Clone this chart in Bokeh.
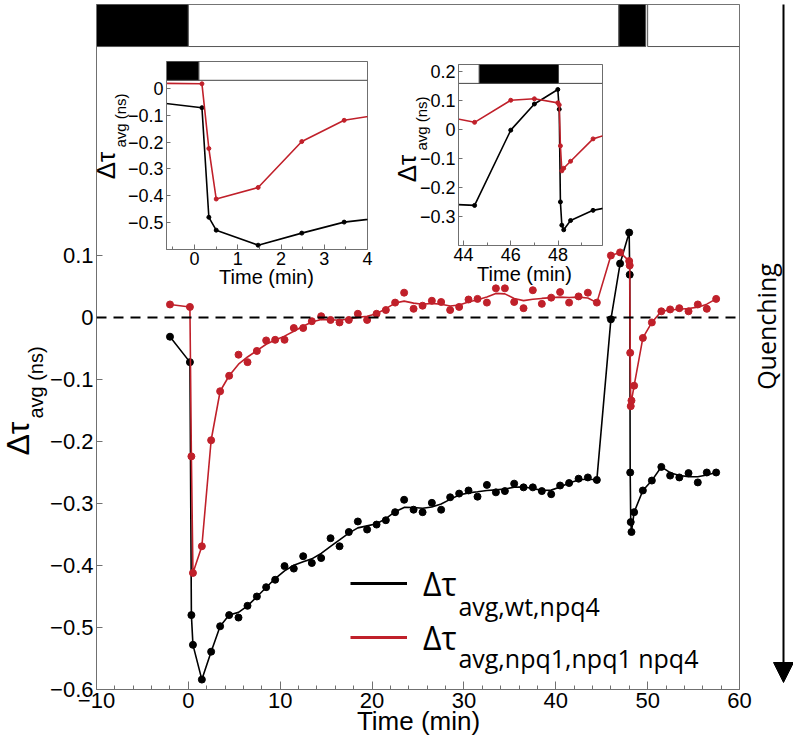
import math
import numpy as np
from bokeh.plotting import figure
from bokeh.models import (ColumnDataSource, Range1d, FixedTicker, CustomJSTickFormatter,
                          Span, Label, Legend, LegendItem, Arrow, NormalHead)
from bokeh.core.properties import value
from bokeh.layouts import column
from bokeh.embed import file_html
from bokeh.resources import INLINE

# ---------------- data ----------------
t_wt = [-2.0, 0.17, 0.33, 0.5, 1.47, 2.48, 3.46, 4.44, 5.46, 6.44, 7.46, 8.47, 9.45, 10.47,
        11.48, 12.5, 13.44, 14.46, 15.48, 16.46, 17.47, 18.45, 19.46, 20.49, 21.5, 22.51,
        23.49, 24.52, 25.5, 26.51, 27.52, 28.5, 29.48, 30.5, 31.48, 32.5, 33.48, 34.46,
        35.47, 36.49, 37.5, 38.48, 39.5, 40.47, 41.45, 42.48, 43.49, 44.47, 46.0, 47.0,
        47.99, 48.05, 48.1, 48.16, 48.24, 48.53, 49.48, 50.46, 51.49, 52.45, 53.45, 54.45,
        55.46, 56.44, 57.46]
dtau_wt = [-0.031, -0.072, -0.480, -0.528, -0.584, -0.539, -0.498, -0.480, -0.484, -0.465,
           -0.450, -0.435, -0.423, -0.401, -0.405, -0.385, -0.396, -0.388, -0.356, -0.369,
           -0.346, -0.329, -0.342, -0.334, -0.327, -0.314, -0.294, -0.310, -0.314, -0.299,
           -0.310, -0.290, -0.284, -0.279, -0.289, -0.270, -0.282, -0.280, -0.268, -0.274,
           -0.274, -0.280, -0.285, -0.271, -0.267, -0.260, -0.258, -0.262, -0.003, 0.087,
           0.137, 0.069, -0.250, -0.330, -0.346, -0.314, -0.279, -0.263, -0.241, -0.255,
           -0.258, -0.251, -0.266, -0.250, -0.250]

t_npq1 = [-2.0, 0.17, 0.33, 0.5, 1.47, 2.48, 3.46, 4.44, 5.46, 6.44, 7.46, 8.47, 9.45, 10.47,
          11.48, 12.5, 13.44, 14.46, 15.48, 16.46, 17.47, 18.45, 19.46, 20.49, 21.5, 22.51,
          23.49, 24.52, 25.5, 26.51, 27.52, 28.5, 29.48, 30.5, 31.48, 32.5, 33.48, 34.46,
          35.47, 36.49, 37.5, 38.48, 39.5, 40.47, 41.45, 42.48, 43.49, 44.47, 46.0, 47.0,
          47.99, 48.05, 48.1, 48.16, 48.24, 48.53, 49.48, 50.46, 51.49, 52.45, 53.45, 54.45,
          55.46, 56.44, 57.46]
dtau_npq1 = [0.021, 0.017, -0.224, -0.412, -0.369, -0.198, -0.119, -0.094, -0.060, -0.072,
             -0.054, -0.037, -0.036, -0.036, -0.017, -0.017, -0.006, 0.002, -0.004, -0.008,
             -0.004, 0.006, -0.004, 0.006, 0.012, 0.024, 0.040, 0.014, 0.019, 0.027,
             0.025, 0.012, 0.017, 0.029, 0.030, 0.024, 0.047, 0.047, 0.025, 0.015,
             0.044, 0.022, 0.032, 0.041, 0.024, 0.034, 0.040, 0.024, 0.100, 0.105,
             0.091, 0.084, -0.057, -0.143, -0.134, -0.110, -0.033, -0.008, 0.010, 0.013,
             0.015, 0.010, 0.021, 0.014, 0.030]

# tick positions
x_ticks_main = [-10, 0, 10, 20, 30, 40, 50, 60]
x_minor_main = [-8, -6, -4, -2, 2, 4, 6, 8, 12, 14, 16, 18, 22, 24, 26, 28, 32, 34, 36, 38,
                42, 44, 46, 48, 52, 54, 56, 58]
y_ticks_main = [-0.6, -0.5, -0.4, -0.3, -0.2, -0.1, 0.0, 0.1]
x_ticks_in1 = [0, 1, 2, 3, 4]
x_minor_in1 = [-0.5, 0.5, 1.5, 2.5, 3.5]
y_ticks_in1 = [-0.5, -0.4, -0.3, -0.2, -0.1, 0.0]
x_ticks_in2 = [44, 46, 48]
x_minor_in2 = [45, 47, 49]
y_ticks_in2 = [-0.3, -0.2, -0.1, 0.0, 0.1, 0.2]

# light / dark schedule bars (time limits, min)
bar_main_start = [-10.0, 0.0, 46.87, 50.0]
bar_main_end = [0.0, 46.87, 49.79, 60.0]
bar_main_dark = [True, False, True, False]
bar_in1_start = [-0.65, 0.1]
bar_in1_end = [0.1, 4.0]
bar_in1_dark = [True, False]
bar_in2_start = [43.79, 44.67, 48.02]
bar_in2_end = [44.67, 48.02, 49.88]
bar_in2_dark = [False, True, False]

# ---------------- styling ----------------
BLACK = "#000000"
RED = "#c0202a"
AXIS = "#707070"
TICK_FONT = "Liberation Sans"
HUM_FONT = "Open Sans"
LEFT_BORDER = 96
RIGHT_BORDER = 54


def smooth_segments(vals, segments, passes=2):
    out = np.array(vals, dtype=float)
    for a, b in segments:
        seg = out[a:b + 1].copy()
        for _ in range(passes):
            nxt = seg.copy()
            nxt[1:-1] = 0.25 * seg[:-2] + 0.5 * seg[1:-1] + 0.25 * seg[2:]
            seg = nxt
        out[a:b + 1] = seg
    return out.tolist()


smooth_idx = [(7, 47), (58, 64)]
fit_wt = smooth_segments(dtau_wt, smooth_idx)
fit_npq1 = smooth_segments(dtau_npq1, smooth_idx)

fmt_x = CustomJSTickFormatter(code="""
const v = Math.round(tick * 100) / 100;
return v < 0 ? "\u2212" + Math.abs(v) : String(v);
""")
fmt_y = CustomJSTickFormatter(code="""
const v = Math.round(tick * 10) / 10;
if (Math.abs(v) < 1e-9) { return "0"; }
return (v < 0 ? "\u2212" : "") + Math.abs(v).toFixed(1);
""")


def style_axis(ax, font_size, tick_in, minor_in):
    ax.axis_line_color = AXIS
    ax.major_tick_line_color = AXIS
    ax.minor_tick_line_color = AXIS
    ax.major_tick_in = tick_in
    ax.major_tick_out = 0
    ax.minor_tick_in = minor_in
    ax.minor_tick_out = 0
    ax.major_label_text_font = TICK_FONT
    ax.major_label_text_font_size = font_size
    ax.major_label_text_color = BLACK
    ax.major_label_standoff = 3


# ---------------- main figure ----------------
p = figure(frame_width=643, frame_height=685,
           x_range=Range1d(-10, 60), y_range=Range1d(-0.6, 0.5048),
           min_border_left=LEFT_BORDER, min_border_right=RIGHT_BORDER,
           min_border_top=4, min_border_bottom=52,
           output_backend="svg", toolbar_location=None)
p.grid.visible = False
p.outline_line_color = AXIS
p.background_fill_color = "white"
p.border_fill_color = "white"

p.xaxis.ticker = FixedTicker(ticks=x_ticks_main, minor_ticks=x_minor_main)
p.yaxis.ticker = FixedTicker(ticks=y_ticks_main, minor_ticks=[])
p.xaxis.formatter = fmt_x
p.yaxis.formatter = fmt_y
style_axis(p.xaxis[0], "22px", 8, 4)
style_axis(p.yaxis[0], "22px", 6, 0)

bar_src = ColumnDataSource(dict(l=bar_main_start, r=bar_main_end,
                                c=["black" if d else "white" for d in bar_main_dark]))
p.quad(left="l", right="r", bottom=0.437, top=0.5048, fill_color="c", line_color="#555",
       line_width=1, source=bar_src)

p.add_layout(Span(location=0, dimension="width", line_color=BLACK, line_width=2,
                  line_dash="10 7"))

src_wt = ColumnDataSource(dict(t=t_wt, v=dtau_wt, fit=fit_wt))
src_np = ColumnDataSource(dict(t=t_npq1, v=dtau_npq1, fit=fit_npq1))
p.line("t", "fit", source=src_wt, line_color=BLACK, line_width=1.6)
p.scatter("t", "v", source=src_wt, size=7, color=BLACK)
p.line("t", "fit", source=src_np, line_color=RED, line_width=1.6)
p.scatter("t", "v", source=src_np, size=7, color=RED)

# legend (line keys only)
lw = p.line(x=[np.nan], y=[np.nan], line_color=BLACK, line_width=3)
lr = p.line(x=[np.nan], y=[np.nan], line_color=RED, line_width=3)
legend = Legend(items=[LegendItem(label=value("Δτ"), renderers=[lw]),
                       LegendItem(label=value("Δτ"), renderers=[lr])],
                location=(254, 30), glyph_width=57, glyph_height=44, label_height=44,
                spacing=10, padding=0, margin=0, label_standoff=16,
                label_text_font=HUM_FONT, label_text_font_size="32px",
                label_text_color=BLACK,
                border_line_alpha=0, background_fill_alpha=0)
p.add_layout(legend)
p.add_layout(Label(x=29.4, y=-0.466, text="avg,wt,npq4", text_font=HUM_FONT,
                   text_font_size="25px", text_baseline="alphabetic", text_align="left",
                   text_color=BLACK))
p.add_layout(Label(x=29.4, y=-0.550, text="avg,npq1,npq1 npq4", text_font=HUM_FONT,
                   text_font_size="25px", text_baseline="alphabetic", text_align="left",
                   text_color=BLACK))


# ---------------- insets ----------------
def make_inset(x_rng, y_rng, fw, fh, b_top, xt, xminor, yt, bs, be, bd, bbot, btop):
    f = figure(frame_width=fw, frame_height=fh,
               x_range=Range1d(*x_rng), y_range=Range1d(*y_rng),
               min_border_left=LEFT_BORDER, min_border_top=b_top,
               min_border_right=RIGHT_BORDER, min_border_bottom=46,
               output_backend="svg", toolbar_location=None)
    f.grid.visible = False
    f.background_fill_color = "white"
    f.border_fill_color = None
    f.outline_line_color = AXIS
    f.xaxis.ticker = FixedTicker(ticks=xt, minor_ticks=xminor)
    f.yaxis.ticker = FixedTicker(ticks=yt, minor_ticks=[])
    f.xaxis.formatter = fmt_x
    f.yaxis.formatter = fmt_y
    style_axis(f.xaxis[0], "18px", 5, 3)
    style_axis(f.yaxis[0], "18px", 4, 0)
    f.xaxis.major_label_standoff = 2
    src = ColumnDataSource(dict(l=bs, r=be, c=["black" if d else "white" for d in bd]))
    f.quad(left="l", right="r", bottom=bbot, top=btop, fill_color="c",
           line_color="#444", line_width=1, source=src)
    f.line("t", "v", source=src_wt, line_color=BLACK, line_width=1.6)
    f.scatter("t", "v", source=src_wt, size=4, color=BLACK)
    f.line("t", "v", source=src_np, line_color=RED, line_width=1.6)
    f.scatter("t", "v", source=src_np, size=4, color=RED)
    return f


in1 = make_inset((-0.65, 4.0), (-0.6, 0.1), 201, 188, 6,
                 x_ticks_in1, x_minor_in1, y_ticks_in1,
                 bar_in1_start, bar_in1_end, bar_in1_dark, 0.03, 0.1)
in2 = make_inset((43.79, 49.88), (-0.4, 0.223), 144, 181, 9,
                 x_ticks_in2, x_minor_in2, y_ticks_in2,
                 bar_in2_start, bar_in2_end, bar_in2_dark, 0.158, 0.223)
in1.styles = {"position": "absolute", "left": "70px", "top": "55px"}
in2.styles = {"position": "absolute", "left": "362px", "top": "55px"}


# ---------------- text layers (page pixel coordinates) ----------------
def make_layer(x0, x1):
    f = figure(frame_width=x1 - x0, frame_height=741,
               x_range=Range1d(x0, x1), y_range=Range1d(741, 0),
               min_border_left=LEFT_BORDER, min_border_right=RIGHT_BORDER,
               min_border_top=0, min_border_bottom=0,
               x_axis_location=None, y_axis_location=None,
               output_backend="svg", toolbar_location=None)
    f.grid.visible = False
    f.background_fill_color = None
    f.border_fill_color = None
    f.outline_line_color = None
    f.styles = {"position": "absolute", "left": f"{x0 - LEFT_BORDER}px", "top": "0px"}
    return f


ovA = make_layer(0, 643)
ovB = make_layer(600, 793)


def add_text(fig, x, y, text, size, font=TICK_FONT, angle=0.0):
    fig.add_layout(Label(x=x, y=y, text=text, text_font=font, text_font_size=size,
                         text_align="center", text_baseline="middle", text_color=BLACK,
                         angle=angle))


UP = math.pi / 2
# main axis titles
add_text(ovA, 418, 720, "Time (min)", "26px")
add_text(ovA, 17, 438, "Δτ", "32px", angle=UP)
add_text(ovA, 35, 382, "avg (ns)", "20px", angle=UP)
# inset 1 titles
add_text(ovA, 266, 276, "Time (min)", "20px")
add_text(ovA, 105, 165, "Δτ", "26px", angle=UP)
add_text(ovA, 120, 120, "avg (ns)", "15px", angle=UP)
# inset 2 titles
add_text(ovA, 524, 273, "Time (min)", "20px")
add_text(ovA, 406, 168, "Δτ", "26px", angle=UP)
add_text(ovA, 421, 123, "avg (ns)", "15px", angle=UP)
# quenching arrow
add_text(ovB, 765, 326, "Quenching", "25px", font=HUM_FONT, angle=UP)
ovB.add_layout(Arrow(x_start=783, y_start=4, x_end=783, y_end=682,
                     line_color=BLACK, line_width=2,
                     end=NormalHead(size=20, fill_color=BLACK, line_color=BLACK)))

root = column(p, in1, in2, ovA, ovB)
root.styles = {"position": "relative", "overflow": "hidden"}

open("out.html", "w").write(file_html(root, INLINE))
